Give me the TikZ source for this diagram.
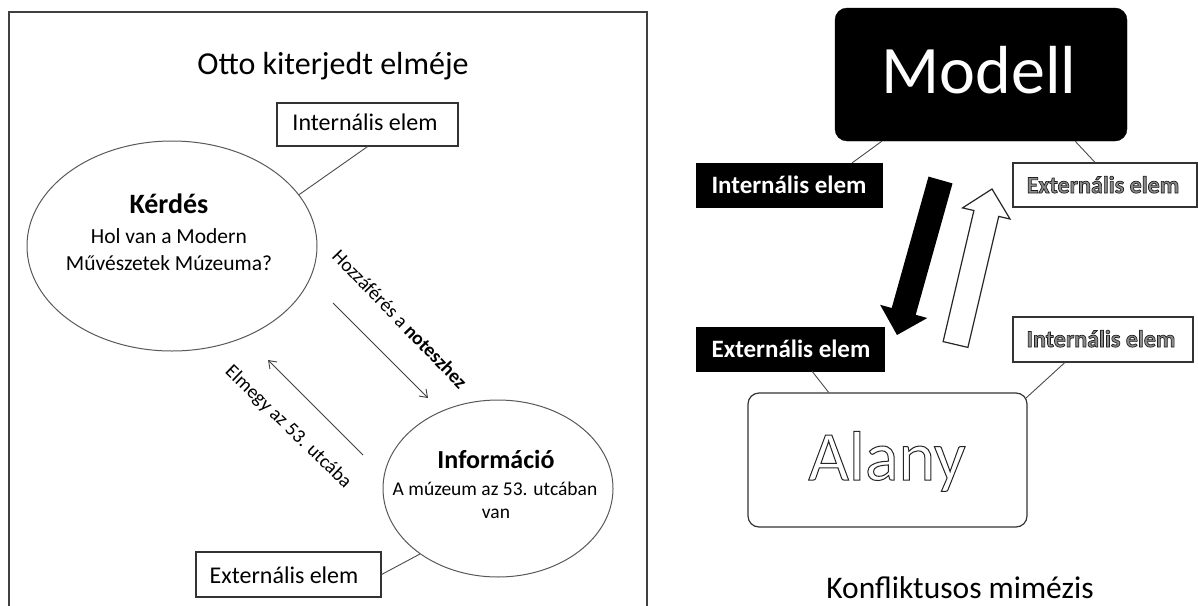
\documentclass[tikz,border=0pt]{standalone}
\usepackage{fontspec}
\setmainfont{Carlito}
\usetikzlibrary{shapes.geometric,arrows.meta,calc}
\newcommand{\setfs}[1]{\fontsize{#1}{#1}\selectfont}
% outlined text through the PDF text rendering mode (fill + stroke)
\newcommand{\outlined}[4]{\special{pdf:code #1 g #2 G #3 w 2 Tr}#4\special{pdf:code 0 Tr 0 g 0 G}}
\newcommand{\grayout}[1]{\outlined{0.55}{0.12}{0.7}{#1}}
\newcommand{\whiteout}[1]{\outlined{1}{0.15}{1.0}{#1}}
\begin{document}
\begin{tikzpicture}[x=1pt,y=-1pt,
  lbl/.style={anchor=base,inner sep=0pt,text=black},
  wbox/.style={draw=black!80,line width=1.2pt,fill=white,inner sep=0pt},
  bbox/.style={draw=black,fill=black,inner sep=0pt},
  link/.style={draw=black!70,line width=0.9pt},
  thinarrow/.style={draw=black!75,line width=0.9pt,-{Straight Barb[length=7pt,width=10pt]}},
  oval/.style={ellipse,draw=black!65,line width=1pt,inner sep=0pt}]
\useasboundingbox (0,0) rectangle (1198,605);
\fill[white] (0,0) rectangle (1198,605);

% ---------- left panel ----------
\draw[line width=2pt,black!75] (9,606) -- (9,12) -- (647,12) -- (647,606);
\node[lbl] (tit) at (333,74) {\setfs{32}Otto kiterjedt elméje};

\node[wbox,minimum width=181pt,minimum height=43pt] (li) at (367.5,124.5) {};
\node[lbl] (lit) at (365,130) {\setfs{24}Internális elem};

\node[oval,minimum width=290pt,minimum height=210pt] (ke) at (172,246) {};
\node[lbl] (ke1) at (169,213) {\setfs{28}\textbf{Kérdés}};
\node[lbl] (ke2) at (169,243) {\setfs{21.5}Hol van a Modern};
\node[lbl] (ke3) at (169,270) {\setfs{21.5}Művészetek Múzeuma?};

\node[oval,minimum width=230pt,minimum height=177pt] (ie) at (498,488.5) {};
\node[lbl] (ie1) at (496,468) {\setfs{26}\textbf{Információ}};
\node[lbl] (ie2) at (495,495) {\setfs{19.5}A múzeum az 53. utcában};
\node[lbl] (ie3) at (496,518) {\setfs{19.5}van};

\node[wbox,minimum width=185pt,minimum height=45pt] (le) at (288.5,574.5) {};
\node[lbl] (let) at (284,583) {\setfs{24}Externális elem};

\draw[link] (li.south) -- (ke.22);
\draw[link] (le.east) -- (ie.220);

\coordinate (a1s) at (333,303);
\coordinate (a1e) at (428,398);
\coordinate (a2s) at (363,455);
\coordinate (a2e) at (268,360);
\draw[thinarrow] (a1s) -- (a1e);
\draw[thinarrow] (a2s) -- (a2e);
\node[inner sep=0pt,rotate=-46] (l1) at (400,319) {\setfs{19.5}Hozzáférés a \textbf{noteszhez}};
\node[inner sep=0pt,rotate=-44] (l2) at (288,427) {\setfs{19.5}Elmegy az 53. utcába};

% ---------- right panel ----------
\node[bbox,rounded corners=12pt,minimum width=292pt,minimum height=133pt] (mo) at (981,74.5) {};
\node[lbl,text=white] (mot) at (979,93) {\setfs{68}Modell};

\node[bbox,minimum width=186pt,minimum height=44pt] (ri1) at (789,185) {};
\node[lbl,text=white] (ri1t) at (789,193) {\setfs{25}\textbf{Internális elem}};

\node[wbox,minimum width=184pt,minimum height=44pt] (re1) at (1105,185) {};
\node[lbl] (re1t) at (1103,193) {\setfs{24}\grayout{\textbf{Externális elem}}};

\draw[link] ($(mo.south west)!0.161!(mo.south east)$) -- ($(ri1.north west)!0.839!(ri1.north east)$);
\draw[link] ($(mo.south west)!0.822!(mo.south east)$) -- ($(re1.north west)!0.446!(re1.north east)$);

% big arrows
\fill[black] (928.5,176.6) -- (952.5,183.4) -- (915.7,314.8) -- (927.3,318.0) -- (897,335)
  -- (880.1,304.8) -- (891.7,308.0) -- cycle;
\draw[black!85,line width=1.2pt,fill=white,line join=miter] (943.1,341.6) -- (967.9,347.4) -- (998.7,216.4) -- (1010.0,219.0)
  -- (992,189) -- (962.5,207.9) -- (973.9,210.5) -- cycle;

\node[bbox,minimum width=188pt,minimum height=44pt] (re2) at (790,349) {};
\node[lbl,text=white] (re2t) at (791,357) {\setfs{25}\textbf{Externális elem}};

\node[wbox,minimum width=180pt,minimum height=45pt] (ri2) at (1103,339.5) {};
\node[lbl] (ri2t) at (1101,347) {\setfs{24}\grayout{\textbf{Internális elem}}};

\node[wbox,rounded corners=11pt,minimum width=279pt,minimum height=134pt] (al) at (887.5,460) {};
\node[lbl] (alt) at (887,480) {\setfs{70}\whiteout{Alany}};

\draw[link] ($(re2.south west)!0.617!(re2.south east)$) -- ($(al.north west)!0.29!(al.north east)$);
\draw[link] ($(ri2.south west)!0.289!(ri2.south east)$) -- ($(al.north east)+(-2,6)$);

\node[lbl] (km) at (960,598) {\setfs{31.5}Konfliktusos mimézis};
\end{tikzpicture}
\end{document}
